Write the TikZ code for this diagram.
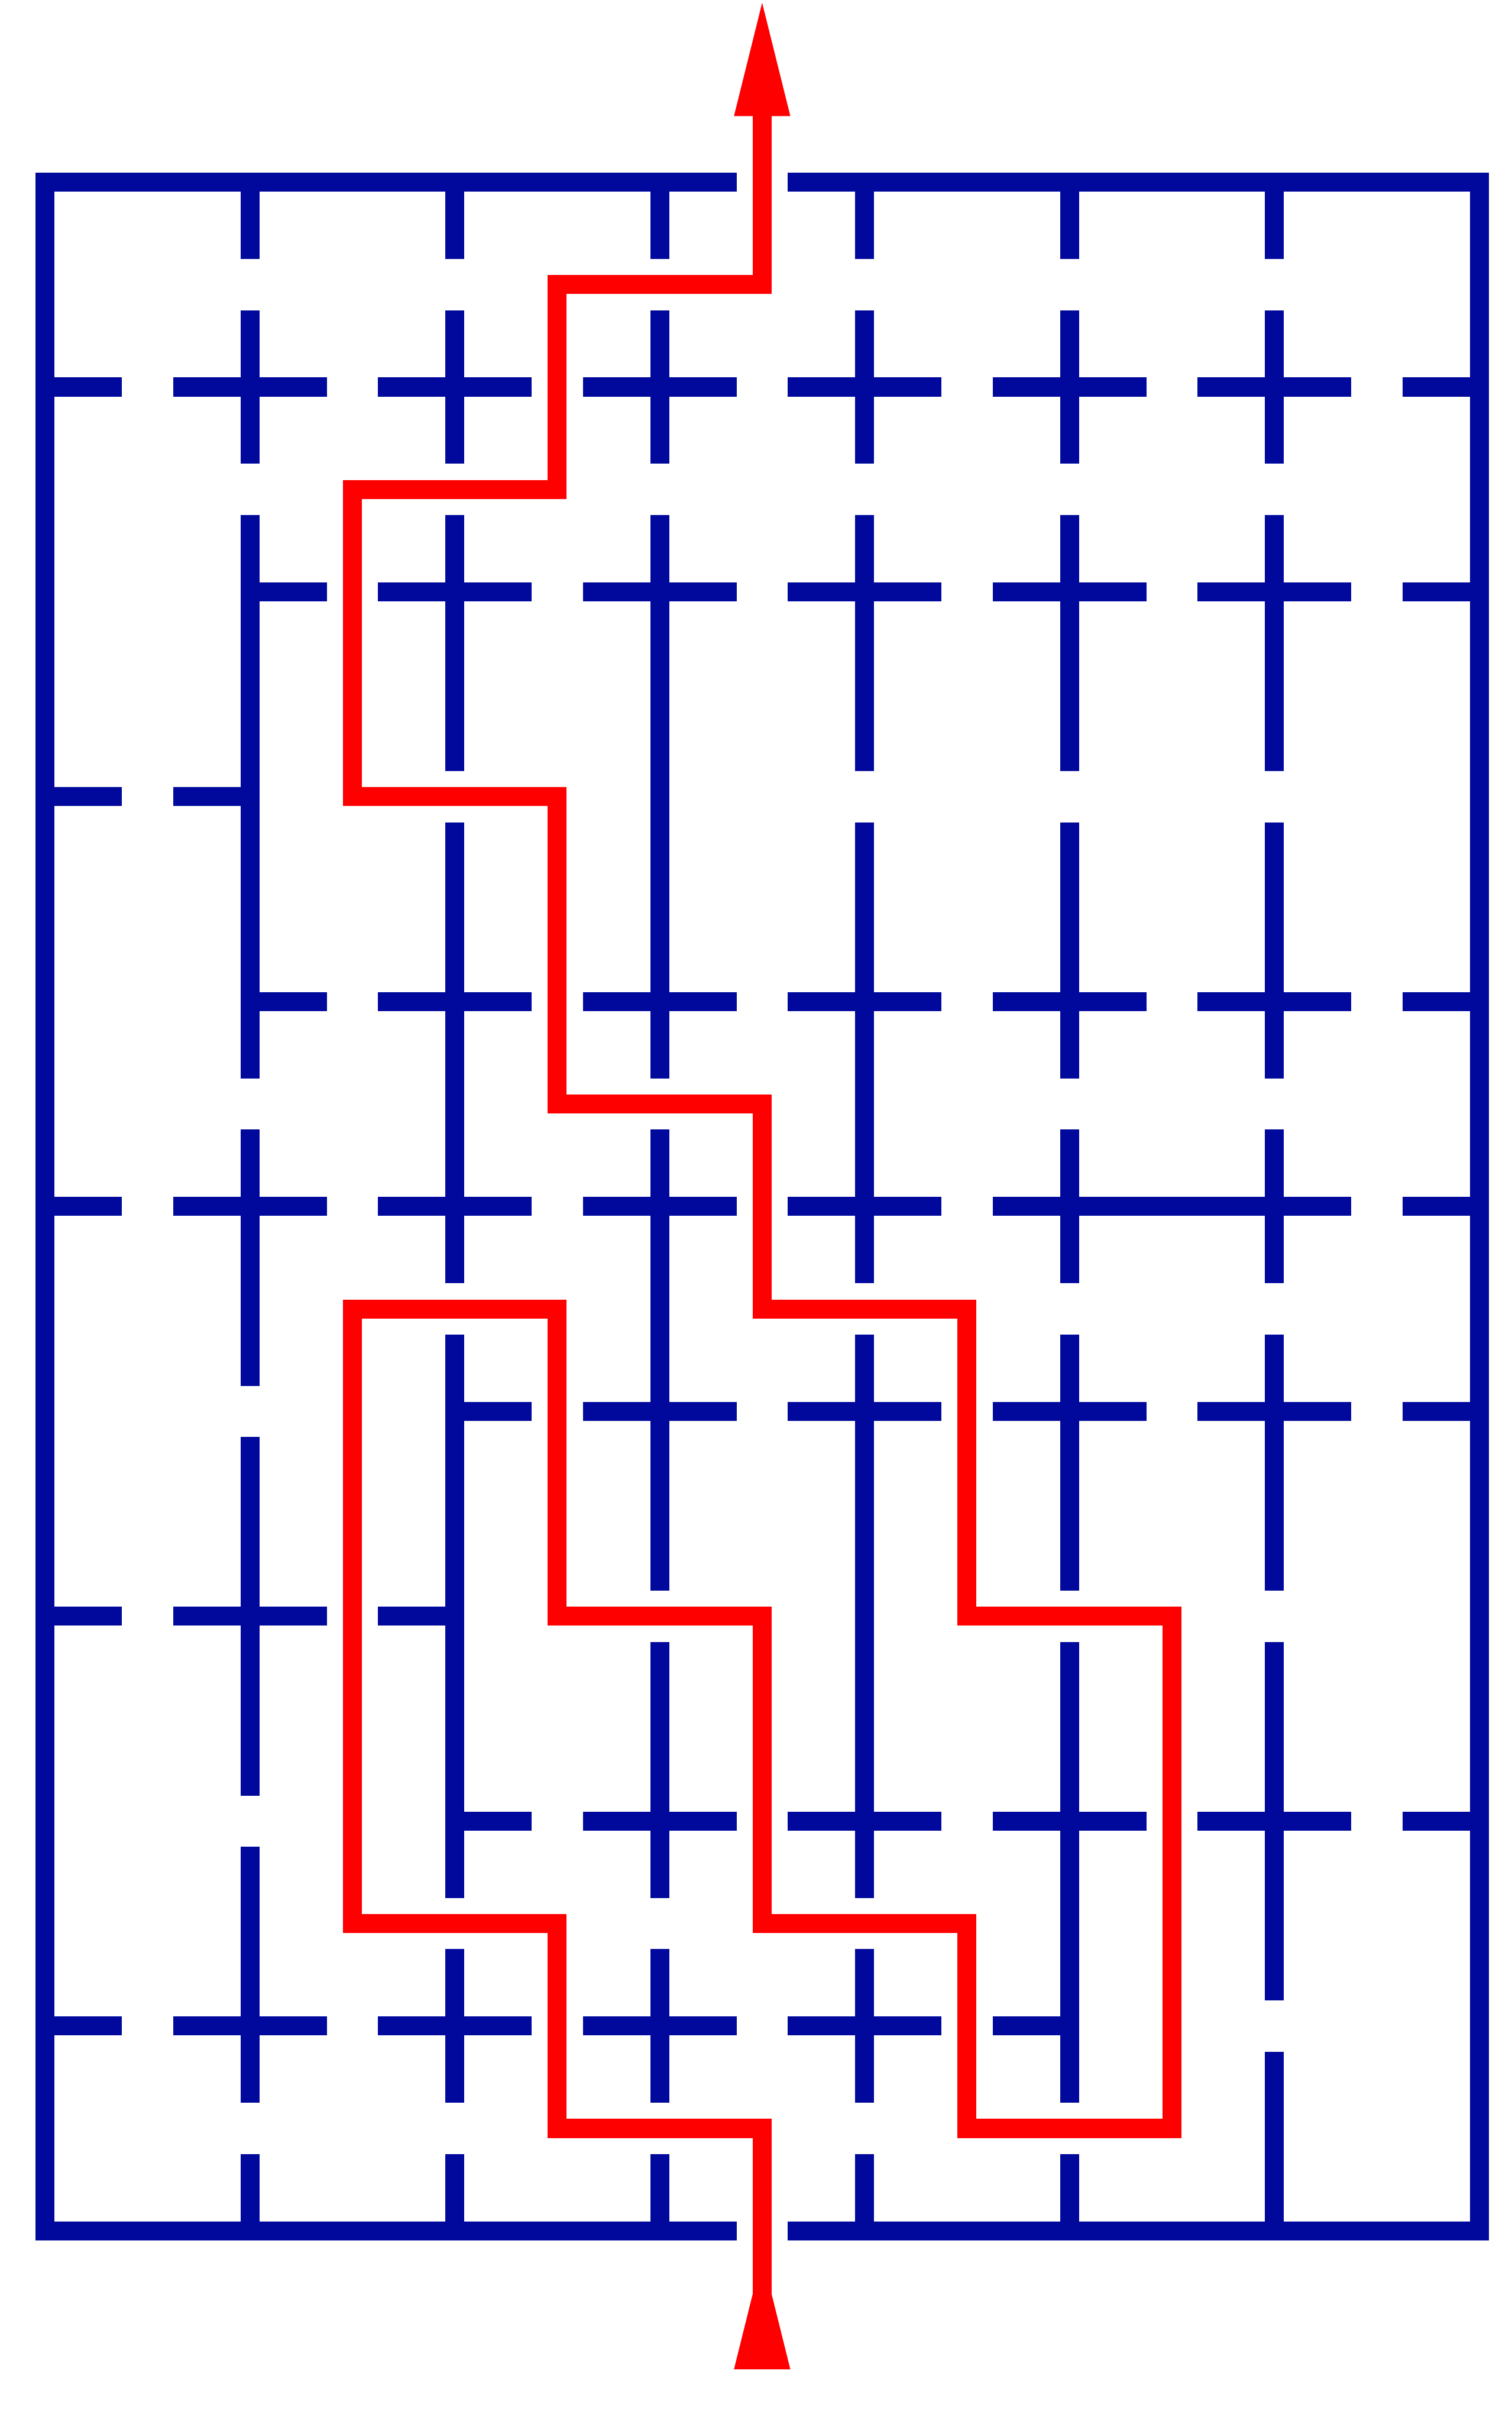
\documentclass[tikz,border=0pt]{standalone}
\usepackage{tikz}
\usetikzlibrary{arrows.meta}
\definecolor{Wall}{HTML}{00099C}
\definecolor{Trail}{HTML}{FF0000}

\begin{document}
\begin{tikzpicture}[
  wall/.style={line width=0.0926cm,draw=Wall,line cap=butt,line join=miter},
  route/.style={line width=0.0926cm,draw=Trail,line cap=butt,line join=miter,
    -{Triangle[length=0.553cm,width=0.275cm,line width=0pt]}}
]
\useasboundingbox (-0.220,0.889) rectangle (7.158,-10.933);
\draw[wall] (3.375,0) -- (0,0) -- (0,-10) -- (3.375,-10);
\draw[wall] (3.625,0) -- (7,0) -- (7,-10) -- (3.625,-10);
\foreach \r/\a/\b in {
  1/0/0.375, 1/0.625/1.375, 1/1.625/2.375, 1/2.625/3.375, 1/3.625/4.375, 1/4.625/5.375, 1/5.625/6.375, 1/6.625/7,
  2/1/1.375, 2/1.625/2.375, 2/2.625/3.375, 2/3.625/4.375, 2/4.625/5.375, 2/5.625/6.375, 2/6.625/7,
  3/0/0.375, 3/0.625/1,
  4/1/1.375, 4/1.625/2.375, 4/2.625/3.375, 4/3.625/4.375, 4/4.625/5.375, 4/5.625/6.375, 4/6.625/7,
  5/0/0.375, 5/0.625/1.375, 5/1.625/2.375, 5/2.625/3.375, 5/3.625/4.375, 5/4.625/6.375, 5/6.625/7,
  6/2/2.375, 6/2.625/3.375, 6/3.625/4.375, 6/4.625/5.375, 6/5.625/6.375, 6/6.625/7,
  7/0/0.375, 7/0.625/1.375, 7/1.625/2,
  8/2/2.375, 8/2.625/3.375, 8/3.625/4.375, 8/4.625/5.375, 8/5.625/6.375, 8/6.625/7,
  9/0/0.375, 9/0.625/1.375, 9/1.625/2.375, 9/2.625/3.375, 9/3.625/4.375, 9/4.625/5}
  \draw[wall] (\a,-\r) -- (\b,-\r);
\foreach \c/\a/\b in {
  1/0/0.375, 1/0.625/1.375, 1/1.625/4.375, 1/4.625/5.875, 1/6.125/7.875, 1/8.125/9.375, 1/9.625/10,
  2/0/0.375, 2/0.625/1.375, 2/1.625/2.875, 2/3.125/5.375, 2/5.625/8.375, 2/8.625/9.375, 2/9.625/10,
  3/0/0.375, 3/0.625/1.375, 3/1.625/4.375, 3/4.625/6.875, 3/7.125/8.375, 3/8.625/9.375, 3/9.625/10,
  4/0/0.375, 4/0.625/1.375, 4/1.625/2.875, 4/3.125/5.375, 4/5.625/8.375, 4/8.625/9.375, 4/9.625/10,
  5/0/0.375, 5/0.625/1.375, 5/1.625/2.875, 5/3.125/4.375, 5/4.625/5.375, 5/5.625/6.875, 5/7.125/9.375, 5/9.625/10,
  6/0/0.375, 6/0.625/1.375, 6/1.625/2.875, 6/3.125/4.375, 6/4.625/5.375, 6/5.625/6.875, 6/7.125/8.875, 6/9.125/10}
  \draw[wall] (\c,-\a) -- (\c,-\b);
\fill[Trail] (3.3625,-10.676) -- (3.5,-10.123) -- (3.6375,-10.676) -- cycle;
\draw[route] (3.5,-10.676) -- (3.5,-9.5) -- (2.5,-9.5) -- (2.5,-8.5) -- (1.5,-8.5) -- (1.5,-5.5)
  -- (2.5,-5.5) -- (2.5,-7) -- (3.5,-7) -- (3.5,-8.5) -- (4.5,-8.5) -- (4.5,-9.5) -- (5.5,-9.5)
  -- (5.5,-7) -- (4.5,-7) -- (4.5,-5.5) -- (3.5,-5.5) -- (3.5,-4.5) -- (2.5,-4.5) -- (2.5,-3)
  -- (1.5,-3) -- (1.5,-1.5) -- (2.5,-1.5) -- (2.5,-0.5) -- (3.5,-0.5) -- (3.5,0.875);
\end{tikzpicture}
\end{document}
